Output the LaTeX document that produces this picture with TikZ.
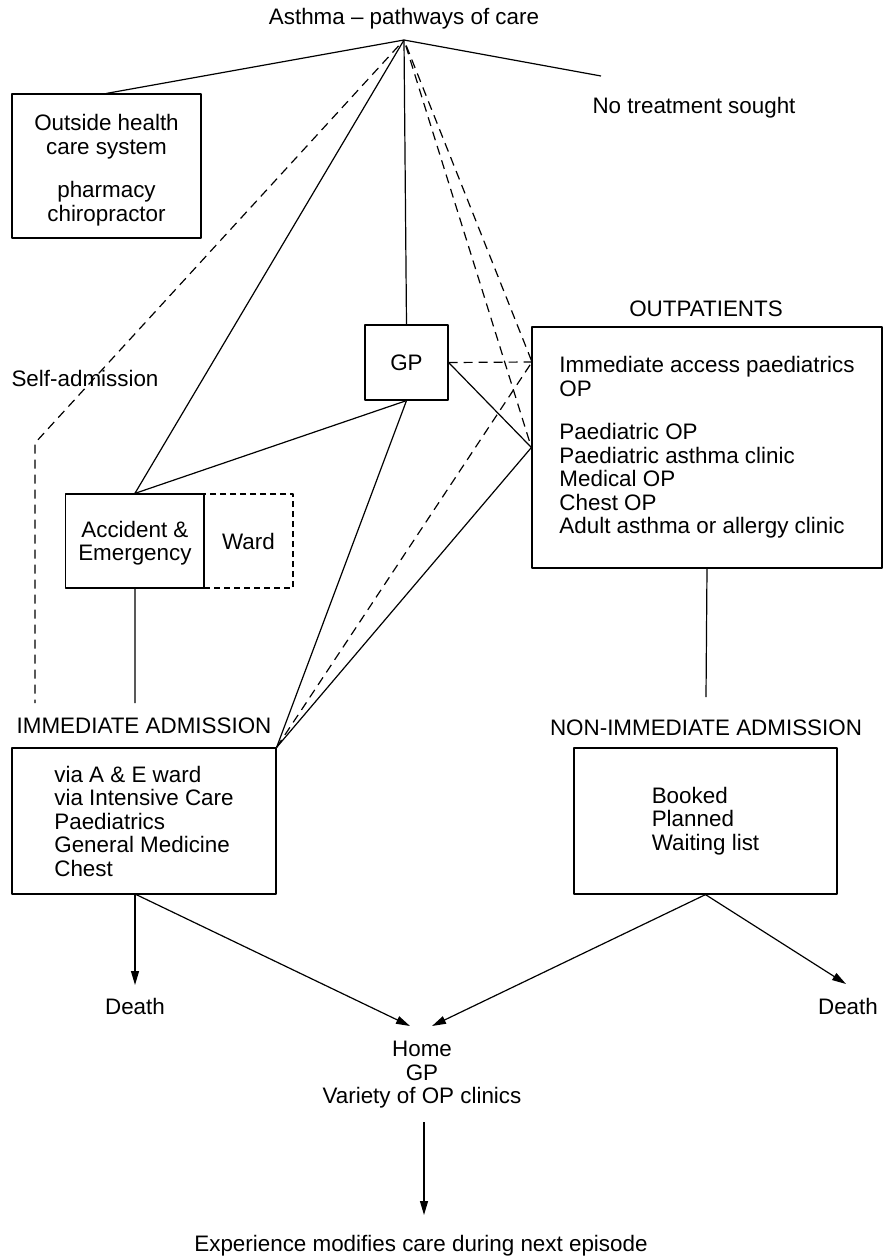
\documentclass[tikz,border=0pt]{standalone}
\usepackage{fontspec}
\setmainfont{Liberation Sans}
\usetikzlibrary{arrows.meta}
\begin{document}
\begin{tikzpicture}[x=1pt,y=-1pt,
  every node/.style={font=\fontsize{22.4pt}{23.5pt}\selectfont, inner sep=0pt},
  box/.style={draw, line width=1.2pt, align=center},
  lbox/.style={draw, line width=1.2pt, align=left},
  wardbox/.style={draw, line width=1.2pt, dash pattern=on 6pt off 4pt, align=center},
  conn/.style={line width=1.2pt},
  dsh/.style={line width=1.2pt, dash pattern=on 9pt off 6pt},
  arr/.style={line width=1.2pt, -{Triangle[length=14pt,width=8pt]}},
  line join=round]
\useasboundingbox (0,0) rectangle (883,1256);
\fill[white] (0,0) rectangle (883,1256);

% top
\node (title) at (404,19) {Asthma – pathways of care};
\coordinate (apex) at (404,40);
\node[box, minimum width=189pt, minimum height=144pt] (out) at (106.5,166) {};
\node[align=center] (outtxt) at (106.5,170) {Outside health\\care system\\[20pt]pharmacy\\chiropractor};
\node (none) at (694,108) {No treatment sought};
\coordinate (noneEnd) at (601,76);
\node (self) at (85,378) {Self-admission};
\coordinate (selfBend) at (35,443);
\coordinate (selfEnd) at (35,703);

% middle
\node[box, minimum width=83pt, minimum height=75pt] (gp) at (406.5,362.5) {GP};
\node (oplab) at (706,309) {OUTPATIENTS};
\node[lbox, minimum width=350pt, minimum height=241pt] (op) at (707,447.5)
  {Immediate access paediatrics\\OP\\[20pt]Paediatric OP\\Paediatric asthma clinic\\Medical OP\\Chest OP\\Adult asthma or allergy clinic};
\coordinate (opA) at (532,362);
\node[wardbox, minimum width=89pt, minimum height=94pt] (ward) at (248.5,541) {Ward};
\node[box, minimum width=138.3pt, minimum height=94pt, fill=white] (ae) at (134.9,541) {};
\node[align=center] (aetxt) at (134.9,543) {Accident \&\\Emergency};
\coordinate (aeEnd) at (135,703);

% admissions
\node (immlab) at (144,726) {IMMEDIATE ADMISSION};
\node[lbox, minimum width=264pt, minimum height=146pt] (imm) at (144,821)
  {via A \& E ward\\via Intensive Care\\Paediatrics\\General Medicine\\Chest};
\node (nonlab) at (706,728) {NON-IMMEDIATE ADMISSION};
\coordinate (nonTop) at (706,697);
\node[lbox, minimum width=263pt, minimum height=146pt] (non) at (705.5,821)
  {Booked\\Planned\\Waiting list};

% bottom
\coordinate (immOut) at (135,894);
\node (deathL) at (135,1006) {Death};
\coordinate (dLtip) at (135,985);
\node (deathR) at (848,1006) {Death};
\coordinate (dRtip) at (846,984);
\node[align=center] (home) at (422,1075) {Home\\GP\\Variety of OP clinics};
\coordinate (hL) at (410,1026);
\coordinate (hR) at (432,1026);
\coordinate (homeOut) at (424,1122);
\coordinate (expTip) at (424,1215);
\node (exp) at (421,1246) {Experience modifies care during next episode};

% solid connectors
\draw[conn] (apex) -- (out.north);
\draw[conn] (apex) -- (noneEnd);
\draw[conn] (apex) -- (gp.north);
\draw[conn] (apex) -- (ae.north);
\draw[conn] (gp.south) -- (ae.north);
\draw[conn] (gp.south) -- (imm.north east);
\draw[conn] (gp.east) -- (op.west);
\draw[conn] (imm.north east) -- (op.west);
\draw[conn] (ae.south) -- (aeEnd);
\draw[conn] (op.south) -- (nonTop);

% dashed connectors
\draw[dsh, shorten <=8pt] (apex) -- (selfBend) -- (selfEnd);
\draw[dsh, shorten <=6pt] (apex) -- (opA);
\draw[dsh, shorten <=6pt] (apex) -- (op.west);
\draw[dsh] (gp.east) -- (opA);
\draw[dsh] (imm.north east) -- (opA);

% arrows
\draw[arr] (immOut) -- (dLtip);
\draw[arr] (immOut) -- (hL);
\draw[arr] (non.south) -- (hR);
\draw[arr] (non.south) -- (dRtip);
\draw[arr] (homeOut) -- (expTip);
\end{tikzpicture}
\end{document}
